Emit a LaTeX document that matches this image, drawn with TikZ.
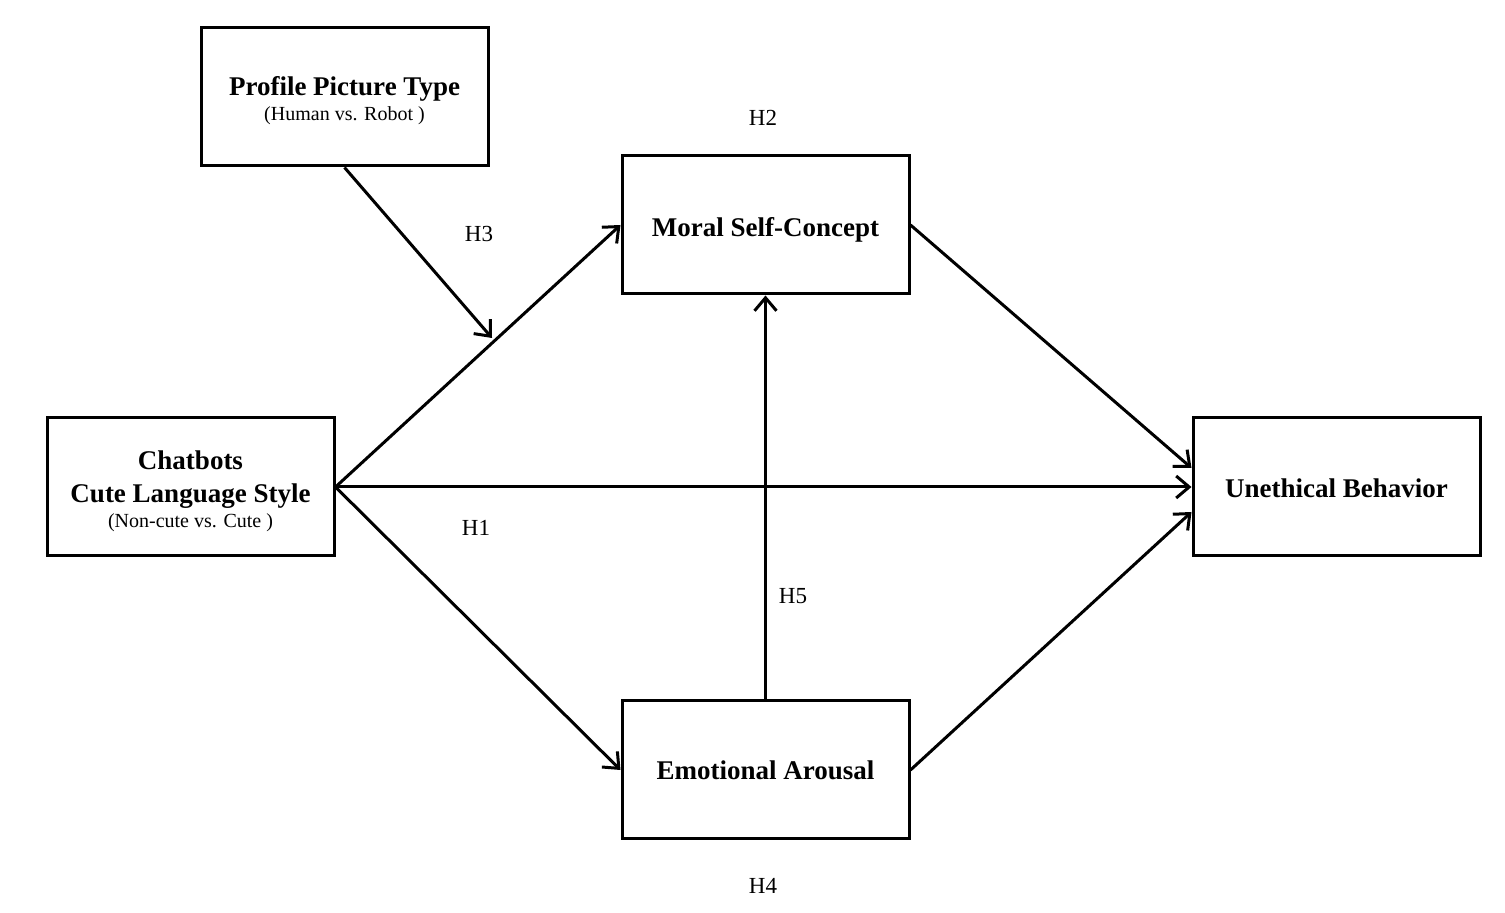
\documentclass[tikz,border=0pt]{standalone}
\usepackage{fontspec}
\setmainfont{Liberation Serif}
\usetikzlibrary{arrows.meta}
\begin{document}
\begin{tikzpicture}[x=0.5pt,y=-0.5pt,
  box/.style={draw,line width=1.5pt,minimum width=143.5pt,minimum height=69pt,align=center,inner sep=0pt},
  conn/.style={line width=1.5pt,-{Straight Barb[length=6.5pt,width=11pt,line width=1.5pt]}},
  hlab/.style={font=\fontsize{11.5}{13}\selectfont}]
\useasboundingbox (0,0) rectangle (1505,913);
\node[box] (profile) at (344.5,97) {\rule{0pt}{13.3pt}\fontsize{13.5}{16}\selectfont\bfseries Profile Picture Type\\[0.8pt]\fontsize{10}{12}\selectfont (Human vs. Robot )};
\node[box,text depth=1pt,text height=12.4pt] (moral) at (765.5,225) {\fontsize{13.5}{16}\selectfont\bfseries Moral Self-Concept};
\node[box] (chat) at (190.5,487) {\rule{0pt}{13.8pt}\fontsize{13.5}{16}\selectfont\bfseries Chatbots\\[4.5pt]\fontsize{13.5}{16}\selectfont\bfseries Cute Language Style\\[0.8pt]\fontsize{10}{12}\selectfont (Non-cute vs. Cute )};
\node[box,text depth=0pt,text height=11pt] (uneth) at (1336.5,487) {\fontsize{13.5}{16}\selectfont\bfseries Unethical Behavior};
\node[box] (emo) at (765.5,770) {\fontsize{13.5}{16}\selectfont\bfseries Emotional Arousal};
\coordinate (mod) at (492,338);
\draw[conn] (chat.east) -- (moral.west);
\draw[conn] (chat.east) -- (uneth.west);
\draw[conn] (chat.east) -- (emo.west);
\draw[conn] (moral.east) -- ([yshift=9.5pt]uneth.west);
\draw[conn] (emo.east) -- ([yshift=-12.5pt]uneth.west);
\draw[conn] (emo.north) -- (moral.south);
\draw[conn] (profile.south) -- (mod);
\node[hlab] (h2) at (763,118) {H2};
\node[hlab] (h3) at (479,234) {H3};
\node[hlab] (h1) at (476,528) {H1};
\node[hlab] (h5) at (793,596) {H5};
\node[hlab] (h4) at (763,886) {H4};
\end{tikzpicture}
\end{document}
